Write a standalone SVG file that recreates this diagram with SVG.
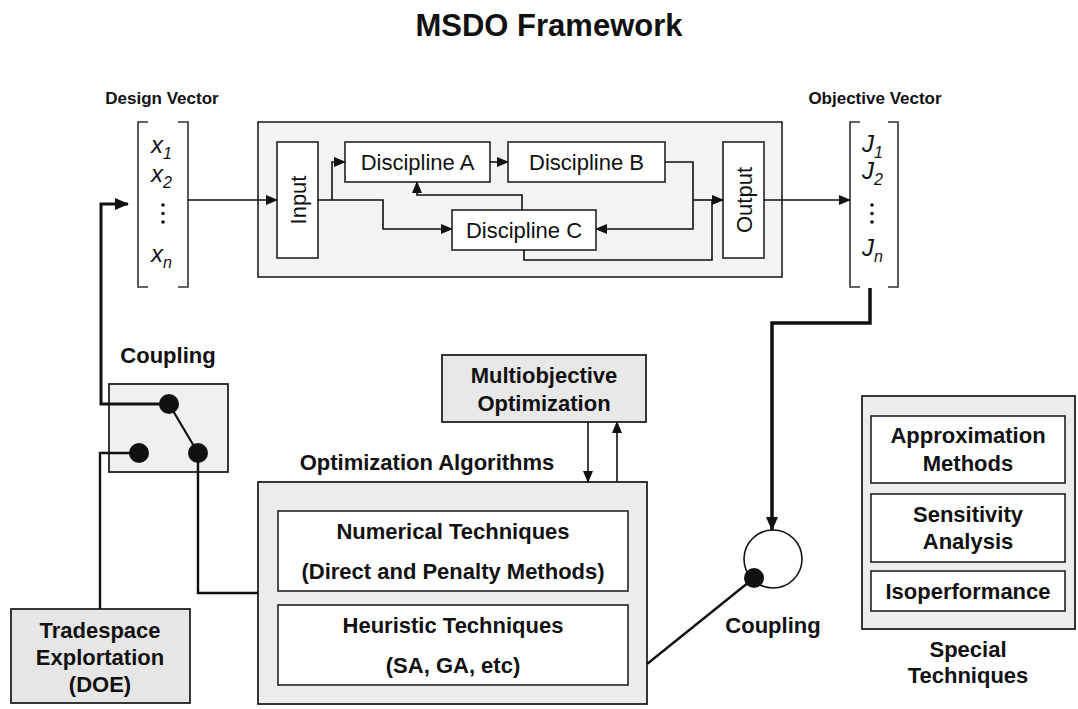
<svg xmlns="http://www.w3.org/2000/svg" width="1078" height="709" viewBox="0 0 1078 709">
  <style>
    text { font-family: "Liberation Sans", Arial, sans-serif; fill: #111; }
    .title { font-size: 31px; font-weight: bold; text-anchor: middle; }
    .lbl { font-size: 17px; font-weight: bold; text-anchor: middle; }
    .b { font-size: 22px; font-weight: bold; text-anchor: middle; }
    .r { font-size: 22px; text-anchor: middle; }
    .v { font-size: 24px; font-style: italic; }
    .sub { font-size: 16px; font-style: italic; }
    .box { fill: #ffffff; stroke: #222; stroke-width: 1.6; }
    .panel { fill: #ececec; stroke: #222; stroke-width: 1.8; }
    .frame { fill: #f3f3f3; stroke: #222; stroke-width: 1.6; }
    .brk { fill: none; stroke: #333; stroke-width: 1.6; }
    .ln { fill: none; stroke: #111; stroke-width: 1.6; }
    .thick { fill: none; stroke: #111; stroke-width: 3; }
    .dot { fill: #111; }
  </style>
  <defs>
    <marker id="ah" markerUnits="userSpaceOnUse" markerWidth="12" markerHeight="10" refX="11" refY="5" orient="auto">
      <path d="M0,0 L12,5 L0,10 z" fill="#111"/>
    </marker>
    <marker id="ahb" markerUnits="userSpaceOnUse" markerWidth="14" markerHeight="12" refX="13" refY="6" orient="auto">
      <path d="M0,0 L14,6 L0,12 z" fill="#111"/>
    </marker>
  </defs>

  <rect width="1078" height="709" fill="#ffffff"/>

  <text class="title" x="549" y="36">MSDO Framework</text>

  <!-- design vector -->
  <g id="design-vector">
    <text class="lbl" x="162" y="104">Design Vector</text>
    <path class="brk" d="M148,122 H138 V287 H148 M178,122 H188 V287 H178"/>
    <text class="v" x="151" y="153">x<tspan class="sub" dy="6">1</tspan></text>
    <text class="v" x="151" y="182">x<tspan class="sub" dy="6">2</tspan></text>
    <circle class="dot" cx="163" cy="205" r="1.8"/>
    <circle class="dot" cx="163" cy="213.5" r="1.8"/>
    <circle class="dot" cx="163" cy="222" r="1.8"/>
    <text class="v" x="151" y="262">x<tspan class="sub" dy="6">n</tspan></text>
  </g>

  <!-- objective vector -->
  <g id="objective-vector">
    <text class="lbl" x="875" y="104">Objective Vector</text>
    <path class="brk" d="M860,122 H850 V287 H860 M888,122 H898 V287 H888"/>
    <text class="v" x="862" y="152">J<tspan class="sub" dy="6">1</tspan></text>
    <text class="v" x="862" y="179">J<tspan class="sub" dy="6">2</tspan></text>
    <circle class="dot" cx="872" cy="205" r="1.8"/>
    <circle class="dot" cx="872" cy="213.5" r="1.8"/>
    <circle class="dot" cx="872" cy="222" r="1.8"/>
    <text class="v" x="862" y="256">J<tspan class="sub" dy="6">n</tspan></text>
  </g>

  <!-- analysis frame with disciplines -->
  <g id="analysis-frame">
    <rect class="frame" x="258" y="122" width="524" height="155"/>
  </g>
  <g id="input">
    <rect class="box" x="277" y="142" width="41" height="116"/>
    <text class="r" transform="translate(297.5,200) rotate(-90)" x="0" y="8">Input</text>
  </g>
  <g id="output">
    <rect class="box" x="723" y="142" width="41" height="116"/>
    <text class="r" transform="translate(743.5,200) rotate(-90)" x="0" y="8">Output</text>
  </g>
  <g id="discipline-a">
    <rect class="box" x="345" y="142" width="145" height="40"/>
    <text class="r" x="417.5" y="170">Discipline A</text>
  </g>
  <g id="discipline-b">
    <rect class="box" x="508" y="142" width="157" height="40"/>
    <text class="r" x="586.5" y="170">Discipline B</text>
  </g>
  <g id="discipline-c">
    <rect class="box" x="452" y="210" width="144" height="40"/>
    <text class="r" x="524" y="238">Discipline C</text>
  </g>

  <!-- left coupling switch -->
  <g id="coupling-left">
    <text class="b" x="168" y="363">Coupling</text>
    <rect class="panel" x="109" y="384" width="119" height="88" style="fill:#f0f0f0"/>
    <line class="thick" x1="169" y1="404" x2="198" y2="453" style="stroke-width:2.2"/>
    <circle class="dot" cx="169" cy="404" r="10"/>
    <circle class="dot" cx="139" cy="453" r="10"/>
    <circle class="dot" cx="198" cy="453" r="10"/>
  </g>

  <g id="tradespace">
    <rect class="panel" x="11" y="609" width="179" height="94" style="fill:#e6e6e6"/>
    <text class="b" x="100" y="638">Tradespace</text>
    <text class="b" x="100" y="665">Explortation</text>
    <text class="b" x="100" y="692">(DOE)</text>
  </g>

  <g id="multiobjective">
    <rect class="panel" x="442" y="355" width="204" height="67" style="fill:#e8e8e8"/>
    <text class="b" x="544" y="383">Multiobjective</text>
    <text class="b" x="544" y="411">Optimization</text>
  </g>

  <g id="optimization-algorithms">
    <text class="b" x="427" y="470">Optimization Algorithms</text>
    <rect class="panel" x="258" y="482" width="389" height="222"/>
  </g>
  <g id="numerical">
    <rect class="box" x="278" y="511" width="350" height="80"/>
    <text class="b" x="453" y="539">Numerical Techniques</text>
    <text class="b" x="453" y="579">(Direct and Penalty Methods)</text>
  </g>
  <g id="heuristic">
    <rect class="box" x="278" y="605" width="350" height="80"/>
    <text class="b" x="453" y="633">Heuristic Techniques</text>
    <text class="b" x="453" y="673">(SA, GA, etc)</text>
  </g>

  <g id="coupling-right">
    <circle cx="773" cy="559" r="29" fill="#fff" stroke="#111" stroke-width="1.6"/>
    <circle class="dot" cx="754" cy="578" r="10"/>
    <text class="b" x="773" y="633">Coupling</text>
  </g>

  <g id="special-techniques">
    <rect class="panel" x="862" y="396" width="213" height="233"/>
    <rect class="box" x="871" y="416" width="194" height="67"/>
    <text class="b" x="968" y="443">Approximation</text>
    <text class="b" x="968" y="471">Methods</text>
    <rect class="box" x="871" y="494" width="194" height="68"/>
    <text class="b" x="968" y="522">Sensitivity</text>
    <text class="b" x="968" y="549">Analysis</text>
    <rect class="box" x="871" y="571" width="194" height="40"/>
    <text class="b" x="968" y="599">Isoperformance</text>
    <text class="b" x="968" y="657">Special</text>
    <text class="b" x="968" y="683">Techniques</text>
  </g>

  <!-- connectors -->
  <g id="connectors">
    <path class="ln" d="M188,200 H277" marker-end="url(#ah)"/>
    <path class="ln" d="M318,200 H332 V162 H345" marker-end="url(#ah)"/>
    <path class="ln" d="M332,200 H383 V229 H452" marker-end="url(#ah)"/>
    <path class="ln" d="M490,162 H508" marker-end="url(#ah)"/>
    <path class="ln" d="M522,210 V195 H417 V182" marker-end="url(#ah)"/>
    <path class="ln" d="M665,162 H693 V229 H596" marker-end="url(#ah)"/>
    <path class="ln" d="M693,200 H723" marker-end="url(#ah)"/>
    <path class="ln" d="M524,250 V260 H712 V200"/>
    <path class="ln" d="M764,200 H850" marker-end="url(#ah)"/>
    <path class="thick" d="M169,404 H101 V204 H128" marker-end="url(#ahb)"/>
    <path class="thick" d="M139,453 H100 V609" style="stroke-width:2.4"/>
    <path class="thick" d="M198,453 V593 H258" style="stroke-width:2.4"/>
    <path class="ln" d="M588,422 V482" marker-end="url(#ah)"/>
    <path class="ln" d="M617,482 V422" marker-end="url(#ah)"/>
    <path class="thick" d="M870,288 V323 H772 V530" style="stroke-width:3.5" marker-end="url(#ahb)"/>
    <path class="thick" d="M754,578 L647,664" style="stroke-width:2.4"/>
  </g>
</svg>
